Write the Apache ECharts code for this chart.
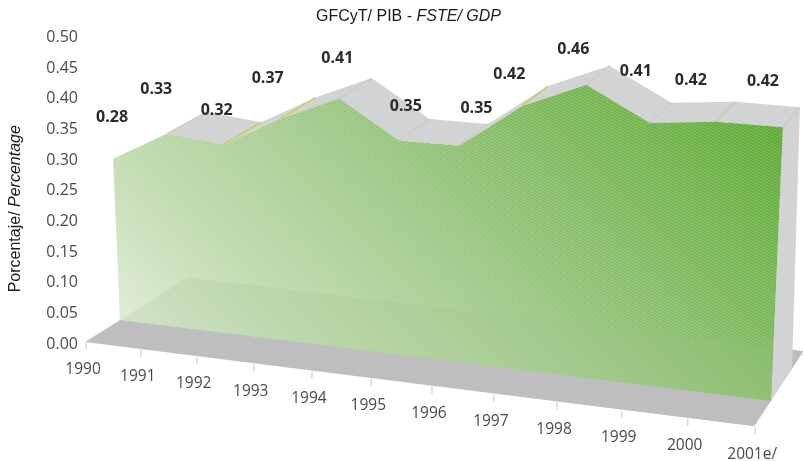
<!DOCTYPE html>
<html><head><meta charset="utf-8">
<style>html,body{margin:0;padding:0;background:#fff}#c{width:803px;height:461px}</style>
<script src="https://cdn.jsdelivr.net/npm/echarts@6/dist/echarts.min.js"></script>
</head><body><div id="c"></div>
<script>
var years = ['1990','1991','1992','1993','1994','1995','1996','1997','1998','1999','2000','2001e/'];
var gfcyt = [0.28,0.33,0.32,0.37,0.41,0.35,0.35,0.42,0.46,0.41,0.42,0.42];
var yTicks = [0,0.05,0.10,0.15,0.20,0.25,0.30,0.35,0.40,0.45,0.50];

// Layout of the drawn perspective (not data)
var labelNudge = [[-1,-41],[-11,-44],[-7,-34],[-13,-40],[-2,-40],[7,-34],[17,-37],[-13,-32],[-13,-35],[-14,-51],[-25,-41],[-20,-46]];
var edgeTint = ['#c9cfa9','#c9cfa9','#c8ce3a','#c8ce3a','#c9cfa9','#c9cfa9','#c9cfa9','#c8ce3a','#c9cfa9','#c9cfa9','#c9cfa9','#c9cfa9'];
var quad = [[120,320],[771,400.7],[785.3,73],[107.5,27]];
var FLOOR_FRONT = -0.8, FLOOR_BACK = 1.55;

var H = (function(q){
  var sx=q[0][0]-q[1][0]+q[2][0]-q[3][0], sy=q[0][1]-q[1][1]+q[2][1]-q[3][1];
  var dx1=q[1][0]-q[2][0], dx2=q[3][0]-q[2][0], dy1=q[1][1]-q[2][1], dy2=q[3][1]-q[2][1];
  var det=dx1*dy2-dx2*dy1, g=(sx*dy2-dx2*sy)/det, h=(dx1*sy-sx*dy1)/det;
  return {a:q[1][0]-q[0][0]+g*q[1][0], b:q[3][0]-q[0][0]+h*q[3][0], c:q[0][0],
          d:q[1][1]-q[0][1]+g*q[1][1], e:q[3][1]-q[0][1]+h*q[3][1], f:q[0][1], g:g, h:h};
})(quad);

// grid pixel from the library's scales -> perspective screen point at a given depth
function proj(api, xIdx, val, depth){
  var o = api.coord([0,0]), e = api.coord([years.length-1,0.5]), p = api.coord([xIdx,val]);
  var U = (p[0]-o[0])/(e[0]-o[0]), V = (o[1]-p[1])/(o[1]-e[1]);
  var w = 1+H.g*U+H.h*V;
  var bow = U*(1-U)*V;
  var x = (H.a*U+H.b*V+H.c)/w + 18*bow, y = (H.d*U+H.e*V+H.f)/w - 5*bow;
  var k = 1-V/0.84;
  var dx = 41-24*U+k*(2.7+1.3*U), dy = -20-k*(7.5+4.5*U);
  return [x+depth*dx, y+depth*dy];
}

var hatch = document.createElement('canvas');
hatch.width = 6; hatch.height = 3;
(function(){
  var c = hatch.getContext('2d');
  c.fillStyle = 'rgba(255,255,255,0.16)';
  [[0,0],[1,0],[2,1],[3,1],[4,2],[5,2]].forEach(function(p){ c.fillRect(p[0],p[1],1,1); });
})();

function poly(pts, style, z2){ return {type:'polygon', z2:z2||0, shape:{points:pts}, style:style, silent:true}; }
function seg(a,b,col,w){ return {type:'line', shape:{x1:a[0],y1:a[1],x2:b[0],y2:b[1]}, style:{stroke:col,lineWidth:w||1}, silent:true}; }

var points = gfcyt.map(function(v,i){ return [i,v]; });
var last = years.length-1;

function renderFloor(params, api){
  if (params.dataIndex !== 0) return null;
  var pts = [proj(api,0,0,FLOOR_FRONT), proj(api,last,0,FLOOR_FRONT), proj(api,last,0,FLOOR_BACK), proj(api,0,0,FLOOR_BACK)];
  return poly(pts, {fill:'#bebec0'});
}
function renderTicks(params, api){
  var i = api.value(0), a = proj(api,i,0,FLOOR_FRONT);
  return {type:'group', children:[
    seg([a[0]+1,a[1]+1],[a[0]+1,a[1]+8],'#cfe3c4',1.5),
    {type:'text', style:{x:a[0]-2, y:a[1]+28, text:years[i], fill:'#4a4a4a', font:'15.5px "Open Sans"', align:'center', verticalAlign:'middle'}, silent:true}
  ]};
}
function renderRibbon(params, api){
  var i = api.value(0), v = api.value(1);
  var kids = [];
  if (i === 0) return null;
  if (i < last){
    var a = proj(api,i,v,0), b = proj(api,i+1,gfcyt[i+1],0), c = proj(api,i+1,gfcyt[i+1],1), d = proj(api,i,v,1);
    kids.push(poly([a,b,c,d],{fill:'#d2d3d5'}));
  } else {
    kids.push(poly([proj(api,i,v,0),proj(api,i,v,1),proj(api,i,0,1),proj(api,i,0,0)],{fill:'#d2d3d5'}));
  }
  kids.push(seg(proj(api,i,v,0),proj(api,i,v,1),edgeTint[i],1.2));
  return {type:'group', children:kids};
}
function wallTop(api){ return points.map(function(p){ return proj(api,p[0],p[1],0); }); }
function renderWall(params, api){
  if (params.dataIndex !== 0) return null;
  var top = wallTop(api);
  var bl = proj(api,0,0,0), br = proj(api,last,0,0);
  var pts = top.concat([br,bl]);
  var backL = proj(api,0,0,FLOOR_BACK), backR = proj(api,last,0,FLOOR_BACK);
  var t = (br[0]+1-backL[0])/(backR[0]-backL[0]);
  var cross = [backL[0]+t*(backR[0]-backL[0]), backL[1]+t*(backR[1]-backL[1])];
  var hatchPts = top.concat([cross,backL,bl]);
  var grad = new echarts.graphic.LinearGradient(120,320,548,-108,[
    {offset:0,color:'#deebd6'},{offset:0.18,color:'#c3dcb2'},{offset:0.4,color:'#a8ce92'},
    {offset:0.47,color:'#9fc988'},{offset:0.7,color:'#82bb62'},{offset:0.85,color:'#72b44c'},{offset:1,color:'#5eab36'}],true);
  return {type:'group', children:[
    poly(pts,{fill:grad}),
    poly(hatchPts,{fill:{image:hatch,repeat:'repeat'}}),
    poly([bl,backL,cross,br],{fill:'rgba(175,205,160,0.25)'})
  ]};
}
function renderLabels(params, api){
  var i = api.value(0), p = proj(api,i,api.value(1),0), n = labelNudge[i];
  return {type:'text', silent:true, style:{x:p[0]+n[0], y:p[1]+n[1], text:gfcyt[i].toFixed(2),
    fill:'#2b2b2b', font:'bold 16px "Open Sans"', align:'center', verticalAlign:'middle'}};
}
function series(fn, z){ return {type:'custom', coordinateSystem:'cartesian2d', renderItem:fn, data:points, z:z, clip:false, encode:{x:0,y:1}, silent:true, animation:false}; }

var txt = {fontFamily:'Liberation Sans',fontSize:16,fontWeight:'normal',color:'#1a1a1a'};
var txtI = {fontFamily:'Liberation Sans',fontSize:16,fontWeight:'normal',fontStyle:'italic',color:'#1a1a1a'};
var chart = echarts.init(document.getElementById('c'), null, {renderer:'canvas'});
chart.setOption({
  animation:false, backgroundColor:'#fff',
  title:{text:'{a|GFCyT/ PIB - }{b|FSTE/ GDP}', left:403.5, top:4, textAlign:'center',
    textStyle:{fontWeight:'normal',rich:{a:txt,b:txtI}}},
  grid:{left:85,right:50,top:37.5,bottom:117,containLabel:false},
  xAxis:{type:'category',data:years,boundaryGap:false,show:false},
  yAxis:{type:'value',min:0,max:0.5,interval:0.05,
    axisLine:{show:false},axisTick:{show:false},splitLine:{show:false},
    axisLabel:{margin:7,color:'#4a4a4a',fontFamily:'Open Sans',fontSize:16,padding:[0,9,0,0],formatter:function(v){return v.toFixed(2);}},
    name:'{a|Porcentaje/ }{b|Percentage}',nameLocation:'middle',nameGap:70,nameRotate:90,
    nameTextStyle:{padding:[0,36,0,0],rich:{a:txt,b:txtI}}},
  series:[series(renderFloor,1),series(renderTicks,2),series(renderRibbon,3),series(renderWall,4),series(renderLabels,5)]
});
</script></body></html>
